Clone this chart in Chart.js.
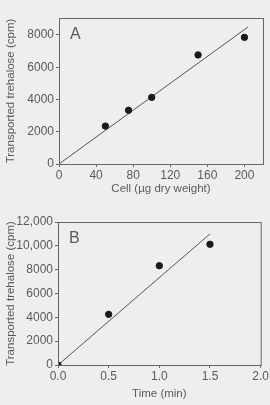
<!DOCTYPE html>
<html>
<head>
<meta charset="utf-8">
<script src="https://cdn.jsdelivr.net/npm/chart.js@4"></script>
<style>
  html, body { margin: 0; padding: 0; background: #eeeeee; }
  .panel { position: relative; width: 270px; }
  #wrapA { height: 200px; }
  #wrapB { height: 205px; }
</style>
</head>
<body>
<div class="panel" id="wrapA"><canvas id="chartA"></canvas></div>
<div class="panel" id="wrapB"><canvas id="chartB"></canvas></div>
<script>
// Painel A - células (µg peso seco) vs trealose transportada
const cellX = [50, 75, 100, 150, 200];
const cellY = [2350, 3330, 4130, 6760, 7850];
const fitAX = [0, 204];
const fitAY = [0, 8500];
const ticksAX = [0, 40, 80, 120, 160, 200];
const ticksAY = [0, 2000, 4000, 6000, 8000];

// Painel B - tempo (min) vs trealose transportada
const timeX = [0, 0.5, 1.0, 1.5];
const timeY = [0, 4250, 8330, 10130];
const fitBX = [0, 1.5];
const fitBY = [0, 11000];
const ticksBX = [0, 0.5, 1.0, 1.5, 2.0];
const ticksBY = [0, 2000, 4000, 6000, 8000, 10000, 12000];

const FONT = 'Liberation Sans';
const TEXT = '#5a5a5a';

// Desenha a moldura da área do gráfico e a letra do painel
const frame = {
  id: 'frame',
  afterDraw(chart, args, opts) {
    const { ctx, chartArea: a } = chart;
    ctx.save();
    ctx.strokeStyle = '#666';
    ctx.lineWidth = 1;
    ctx.strokeRect(a.left + 0.5, a.top + 0.5, a.right - a.left, a.bottom - a.top);
    ctx.fillStyle = TEXT;
    ctx.font = '16px ' + FONT;
    ctx.textBaseline = 'top';
    ctx.fillText(opts.letter, a.left + 11, a.top + 9);
    ctx.restore();
  }
};

function pts(xs, ys) {
  return xs.map((x, i) => ({ x: x, y: ys[i] }));
}

function makeChart(id, cfg) {
  return new Chart(document.getElementById(id), {
    type: 'scatter',
    data: {
      datasets: [
        {
          data: pts(cfg.px, cfg.py),
          backgroundColor: '#1a1a1a',
          borderColor: '#1a1a1a',
          pointRadius: 3.2,
          showLine: false
        },
        {
          data: pts(cfg.lx, cfg.ly),
          showLine: true,
          borderColor: '#555',
          borderWidth: 1,
          pointRadius: 0,
          fill: false
        }
      ]
    },
    options: {
      responsive: true,
      maintainAspectRatio: false,
      animation: false,
      layout: { padding: cfg.pad },
      plugins: {
        legend: { display: false },
        tooltip: { enabled: false },
        frame: { letter: cfg.letter }
      },
      scales: {
        x: {
          type: 'linear',
          min: cfg.xmin, max: cfg.xmax,
          afterBuildTicks: s => { s.ticks = cfg.xt.map(v => ({ value: v })); },
          afterFit: s => { s.height = cfg.xh; },
          ticks: {
            color: TEXT, font: { family: FONT, size: 12 }, padding: 1,
            callback: cfg.xfmt
          },
          grid: { drawOnChartArea: false, tickLength: 3, color: '#666' },
          border: { color: '#666' },
          title: {
            display: true, text: cfg.xtitle, color: TEXT,
            font: { family: FONT, size: 11.5 }, padding: { top: 1 }
          }
        },
        y: {
          type: 'linear',
          min: 0, max: cfg.ymax,
          afterBuildTicks: s => { s.ticks = cfg.yt.map(v => ({ value: v })); },
          afterFit: s => { s.width = cfg.yw; },
          ticks: {
            color: TEXT, font: { family: FONT, size: 12 }, padding: 2,
            callback: v => v >= 10000 ? v.toLocaleString('en-US') : String(v)
          },
          grid: { drawOnChartArea: false, tickLength: 3, color: '#666' },
          border: { color: '#666' },
          title: {
            display: true, text: 'Transported trehalose (cpm)', color: TEXT,
            font: { family: FONT, size: 11.5 }, padding: { bottom: 0 }
          }
        }
      }
    },
    plugins: [frame]
  });
}

makeChart('chartA', {
  px: cellX, py: cellY, lx: fitAX, ly: fitAY,
  xmin: 0, xmax: 220, ymax: 9050,
  xt: ticksAX, yt: ticksAY,
  xfmt: v => String(v),
  xtitle: 'Cell (µg dry weight)',
  letter: 'A',
  pad: { top: 18, right: 7, left: 0, bottom: 0 },
  xh: 36, yw: 59
});

makeChart('chartB', {
  px: timeX, py: timeY, lx: fitBX, ly: fitBY,
  xmin: 0, xmax: 2.0, ymax: 12000,
  xt: ticksBX, yt: ticksBY,
  xfmt: v => v.toFixed(1),
  xtitle: 'Time (min)',
  letter: 'B',
  pad: { top: 22, right: 9, left: 0, bottom: 0 },
  xh: 40, yw: 58
});
</script>
</body>
</html>
